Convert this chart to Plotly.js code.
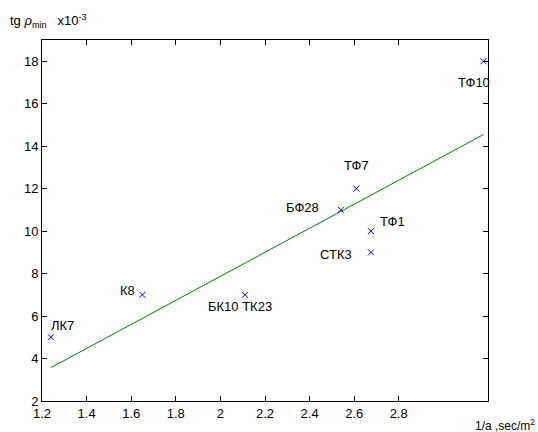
<!DOCTYPE html>
<html>
<head>
<meta charset="utf-8">
<script src="https://cdn.plot.ly/plotly-3.0.1.min.js"></script>
<style>html,body{margin:0;padding:0;background:#fff}#plot{width:538px;height:432px}</style>
</head>
<body>
<div id="plot"></div>
<script>
// Data
var glassNames = ["ЛК7", "К8", "БК10 ТК23", "БФ28", "ТФ7", "ТФ1", "СТК3", "ТФ10"];
var invA = [1.24, 1.65, 2.11, 2.54, 2.61, 2.675, 2.675, 3.18];
var tgRho = [5, 7, 7, 11, 12, 10, 9, 18];
var fitX = [1.24, 3.18];
var fitY = [3.57, 14.55];
var xTicks = [1.2, 1.4, 1.6, 1.8, 2, 2.2, 2.4, 2.6, 2.8];
var yTicks = [2, 4, 6, 8, 10, 12, 14, 16, 18];

// label placement styles (per point)
var labelStyle = [
  {xanchor: "left", xshift: -2, yshift: 12},
  {xanchor: "right", xshift: -5, yshift: 4},
  {xanchor: "center", xshift: -5, yshift: -12},
  {xanchor: "right", xshift: -20, yshift: 2},
  {xanchor: "center", xshift: 0, yshift: 23},
  {xanchor: "left", xshift: 7, yshift: 10},
  {xanchor: "right", xshift: -17, yshift: -2},
  {xanchor: "center", xshift: -10, yshift: -21}
];

var font = {family: "Liberation Sans, Arial, sans-serif", size: 13, color: "#000"};

var annotations = glassNames.map(function (n, i) {
  var s = labelStyle[i];
  return {
    x: invA[i], y: tgRho[i], xref: "x", yref: "y", text: n, showarrow: false,
    xanchor: s.xanchor, yanchor: "middle", xshift: s.xshift, yshift: s.yshift,
    font: font
  };
});

annotations.push({
  xref: "paper", yref: "paper", x: 0, y: 1, xanchor: "left", yanchor: "bottom",
  xshift: -34, yshift: 8, showarrow: false,
  text: "tg <i>ρ</i><sub>min</sub>   x10<sup>-3</sup>", font: font
});
annotations.push({
  xref: "paper", yref: "paper", x: 1, y: 0, xanchor: "right", yanchor: "top",
  xshift: 49, yshift: -14, showarrow: false,
  text: "1/a ,sec/m<sup>2</sup>", font: {family: font.family, size: 12, color: "#000"}
});

var traces = [
  {
    x: fitX, y: fitY, mode: "lines", type: "scatter",
    line: {color: "#008000", width: 1}, hoverinfo: "skip"
  },
  {
    x: invA, y: tgRho, mode: "markers", type: "scatter",
    marker: {symbol: "x-thin-open", size: 6, color: "#0000ff", line: {color: "#0000ff", width: 1}}
  }
];

var axisCommon = {
  showline: true, linecolor: "#000", linewidth: 1, mirror: "ticks",
  ticks: "inside", ticklen: 5, tickwidth: 1, tickcolor: "#000",
  showgrid: false, zeroline: false, tickfont: font
};

var layout = {
  width: 538, height: 432,
  margin: {l: 42, r: 50, t: 40, b: 31},
  paper_bgcolor: "#fff", plot_bgcolor: "#fff",
  showlegend: false,
  xaxis: Object.assign({}, axisCommon, {range: [1.2, 3.2], tickvals: xTicks, ticktext: xTicks.map(String)}),
  yaxis: Object.assign({}, axisCommon, {range: [2, 19], tickvals: yTicks, ticktext: yTicks.map(String)}),
  annotations: annotations,
  font: font
};

Plotly.newPlot("plot", traces, layout, {displayModeBar: false, staticPlot: true});
</script>
</body>
</html>
